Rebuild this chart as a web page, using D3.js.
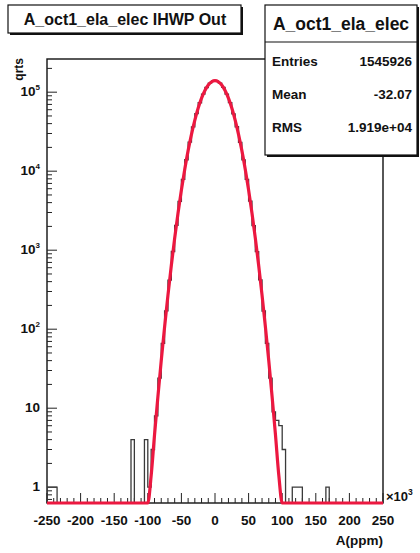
<!DOCTYPE html>
<html lang="en">
	<head>
		<meta charset="utf-8">
		<title>A_oct1_ela_elec IHWP Out</title>
		<script type="text/javascript" src="https://cdn.jsdelivr.net/npm/d3@7"></script>
		<style type="text/css">
			body { margin: 0; background: #fff; }
			text { font-family: "Liberation Sans", Arial, sans-serif; font-weight: bold; fill: #111; }
		</style>
	</head>
	<body>
		<script type="text/javascript">

			//Width and height
			var w = 420;
			var h = 553;

			// histogram: bin lower edges (width 5) and contents
			var binWidth = 5;
			var binLow = d3.range(-250, 250, binWidth);
			var counts = [
				1, 1, 1, 0, 0, 0, 0, 0, 0, 0,
				0, 0, 0, 0, 0, 0, 0, 0, 0, 0,
				0, 0, 0, 0, 0, 4, 0, 0, 0, 4,
				1, 3, 8, 24, 66, 171, 419, 962, 2060, 4150,
				7870, 13950, 23300, 36400, 53400, 73500, 94600, 114600, 130300, 138900,
				138600, 130100, 114800, 94300, 73700, 53200, 36500, 23200, 13900, 7880,
				4170, 2050, 958, 420, 170, 66, 24, 9, 7, 6,
				3, 0, 0, 1, 1, 1, 0, 0, 0, 0,
				0, 0, 0, 1, 0, 0, 0, 0, 0, 0,
				0, 0, 0, 0, 0, 0, 0, 0, 0, 0
			];

			// gaussian fit
			var fitX = [-250, -200, -150, -105, -100, -95, -90, -85, -80, -75, -70, -65, -60, -55, -50, -45, -40, -35, -30, -25, -20, -15, -10, -5, 0,
						5, 10, 15, 20, 25, 30, 35, 40, 45, 50, 55, 60, 65, 70, 75, 80, 85, 90, 95, 100, 105, 150, 200, 250];
			var fitY = [0.001, 0.001, 0.001, 0.1, 0.4, 1.4, 4.6, 13.9, 40, 107, 270, 640, 1420, 2950, 5770, 10600, 18200, 29300, 44400, 63100, 84000, 105000, 123300, 135500, 140000,
						135500, 123300, 105000, 84000, 63100, 44400, 29300, 18200, 10600, 5770, 2950, 1420, 640, 270, 107, 40, 13.9, 4.6, 1.4, 0.4, 0.1, 0.001, 0.001, 0.001];

			var xTicks = [-250, -200, -150, -100, -50, 0, 50, 100, 150, 200, 250];
			var yTickExp = [0, 1, 2, 3, 4, 5];

			var titleText = "A_oct1_ela_elec IHWP Out";
			var statsTitle = "A_oct1_ela_elec";
			var statNames = ["Entries", "Mean", "RMS"];
			var statValues = ["1545926", "-32.07", "1.919e+04"];

			// frame edges
			var fLeft = 47, fRight = 383, fTop = 59, fBottom = 503;

			var xScale = d3.scaleLinear()
							.domain([-250, 250])
							.range([fLeft, fRight]);

			var yScale = d3.scaleLog()
							.domain([Math.pow(10, -0.2), Math.pow(10, 5.42)])
							.range([fBottom, fTop]);

			//Create SVG element
			var svg = d3.select("body")
						.append("svg")
						.attr("width", w)
						.attr("height", h);

			svg.append("rect")
			   .attr("width", w).attr("height", h)
			   .attr("fill", "white");

			// frame
			svg.append("rect")
			   .attr("x", fLeft).attr("y", fTop)
			   .attr("width", fRight - fLeft).attr("height", fBottom - fTop)
			   .attr("fill", "white")
			   .attr("stroke", "#111")
			   .attr("stroke-width", 1.4);

			svg.append("clipPath").attr("id", "frameclip")
			   .append("rect")
			   .attr("x", fLeft).attr("y", fTop - 1)
			   .attr("width", fRight - fLeft).attr("height", fBottom - fTop + 2);

			// x ticks (inside, pointing up)
			var xMinor = d3.range(-250, 251, 10);
			svg.selectAll(".xtick")
			   .data(xMinor)
			   .enter()
			   .append("line")
			   .attr("x1", function(d) { return xScale(d); })
			   .attr("x2", function(d) { return xScale(d); })
			   .attr("y1", fBottom)
			   .attr("y2", function(d) { return fBottom - (d % 50 === 0 ? 10 : 5); })
			   .attr("stroke", "#222")
			   .attr("stroke-width", 1);

			// y ticks (inside, pointing right)
			var yAll = yScale.ticks(60).filter(function(d) {
				var y = yScale(d);
				return y >= fTop && y <= fBottom;
			});
			svg.selectAll(".ytick")
			   .data(yAll)
			   .enter()
			   .append("line")
			   .attr("x1", fLeft)
			   .attr("x2", function(d) {
			   		var e = Math.log10(d);
			   		return fLeft + (Math.abs(e - Math.round(e)) < 1e-6 ? 10 : 5);
			   })
			   .attr("y1", function(d) { return yScale(d); })
			   .attr("y2", function(d) { return yScale(d); })
			   .attr("stroke", "#222")
			   .attr("stroke-width", 1);

			// histogram as a step outline
			var pts = [];
			counts.forEach(function(c, i) {
				var y0 = c > 0 ? yScale(c) : fBottom;
				pts.push([xScale(binLow[i]), y0]);
				pts.push([xScale(binLow[i] + binWidth), y0]);
			});
			svg.append("path")
			   .attr("d", "M" + xScale(-250) + "," + fBottom + "L" + pts.map(function(p) { return p.join(","); }).join("L"))
			   .attr("fill", "none")
			   .attr("stroke", "#3a3a3a")
			   .attr("stroke-width", 1.3)
			   .attr("clip-path", "url(#frameclip)");

			// fit curve, clamped to the frame bottom like ROOT
			var ymin = yScale.domain()[0];
			var fitLine = d3.line()
				.x(function(d) { return xScale(d[0]); })
				.y(function(d) { return yScale(Math.max(d[1], ymin)); })
				.curve(d3.curveMonotoneX);
			svg.append("path")
			   .datum(fitX.map(function(x, i) { return [x, fitY[i]]; }))
			   .attr("d", fitLine)
			   .attr("fill", "none")
			   .attr("stroke", "#ec1840")
			   .attr("stroke-width", 3.2);

			// x labels
			svg.selectAll(".xlab")
			   .data(xTicks)
			   .enter()
			   .append("text")
			   .text(function(d) { return d; })
			   .attr("x", function(d) { return xScale(d); })
			   .attr("y", 525)
			   .attr("text-anchor", "middle")
			   .attr("font-size", "13.5px");

			svg.append("text")
			   .attr("x", 386).attr("y", 501)
			   .attr("font-size", "13px")
			   .text("\u00d710")
			   .append("tspan")
			   .attr("dy", -6)
			   .attr("font-size", "8.5px")
			   .text("3");

			svg.append("text")
			   .text("A(ppm)")
			   .attr("x", fRight)
			   .attr("y", 545)
			   .attr("text-anchor", "end")
			   .attr("font-size", "13.5px");

			// y labels
			var ylab = svg.selectAll(".ylab")
			   .data(yTickExp)
			   .enter()
			   .append("text")
			   .attr("x", 40)
			   .attr("y", function(d) { return yScale(Math.pow(10, d)) + 4; })
			   .attr("text-anchor", "end")
			   .attr("font-size", "13.5px");
			ylab.append("tspan")
			   .text(function(d) { return d === 0 ? "1" : "10"; });
			ylab.filter(function(d) { return d > 1; })
			   .append("tspan")
			   .attr("dy", -6)
			   .attr("font-size", "8px")
			   .text(function(d) { return d; });

			svg.append("text")
			   .text("qrts")
			   .attr("transform", "translate(23," + (fTop - 1) + ") rotate(-90)")
			   .attr("text-anchor", "end")
			   .attr("font-size", "12px");

			// title box with shadow
			svg.append("rect")
			   .attr("x", 10).attr("y", 7).attr("width", 233).attr("height", 28)
			   .attr("fill", "#111");
			svg.append("rect")
			   .attr("x", 8).attr("y", 5).attr("width", 233).attr("height", 28)
			   .attr("fill", "white").attr("stroke", "#111").attr("stroke-width", 1.2);
			svg.append("text")
			   .text(titleText)
			   .attr("x", 125).attr("y", 24.5)
			   .attr("text-anchor", "middle")
			   .attr("font-size", "16px");

			// stats box with shadow
			var sx = 265, sy = 5, sw = 152, sh = 150;
			svg.append("rect")
			   .attr("x", sx + 2).attr("y", sy + 2).attr("width", sw).attr("height", sh)
			   .attr("fill", "#111");
			svg.append("rect")
			   .attr("x", sx).attr("y", sy).attr("width", sw).attr("height", sh)
			   .attr("fill", "white").attr("stroke", "#111").attr("stroke-width", 1.2);
			svg.append("line")
			   .attr("x1", sx).attr("x2", sx + sw)
			   .attr("y1", 42).attr("y2", 42)
			   .attr("stroke", "#111").attr("stroke-width", 1.2);
			svg.append("text")
			   .text(statsTitle)
			   .attr("x", sx + sw / 2).attr("y", 30)
			   .attr("text-anchor", "middle")
			   .attr("font-size", "17.5px");

			svg.selectAll(".sname")
			   .data(statNames)
			   .enter()
			   .append("text")
			   .text(function(d) { return d; })
			   .attr("x", sx + 7)
			   .attr("y", function(d, i) { return 66 + i * 33; })
			   .attr("font-size", "13.5px");

			svg.selectAll(".sval")
			   .data(statValues)
			   .enter()
			   .append("text")
			   .text(function(d) { return d; })
			   .attr("x", sx + sw - 5)
			   .attr("y", function(d, i) { return 66 + i * 33; })
			   .attr("text-anchor", "end")
			   .attr("font-size", "13.5px");

		</script>
	</body>
</html>
